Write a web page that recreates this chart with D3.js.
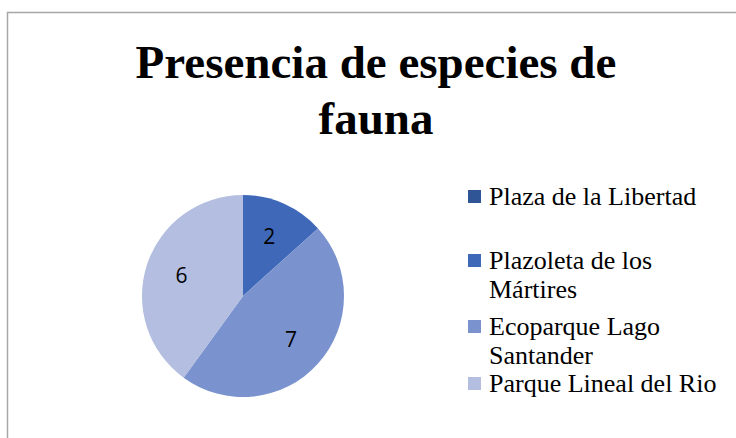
<!DOCTYPE html>
<html>
<head>
<meta charset="utf-8">
<script src="https://cdn.jsdelivr.net/npm/d3@7"></script>
<style>
  body { margin: 0; background: #fff; }
  svg { display: block; }
</style>
</head>
<body>
<div id="chart"></div>
<script>
// Données du graphique
const categories = ["Plaza de la Libertad", "Plazoleta de los Mártires", "Ecoparque Lago Santander", "Parque Lineal del Rio"];
const values = [0, 2, 7, 6];
const legendLines = [["Plaza de la Libertad"], ["Plazoleta de los", "Mártires"], ["Ecoparque Lago", "Santander"], ["Parque Lineal del Rio"]];
const colors = ["#2f5597", "#3f69b8", "#7a93cf", "#b3bee0"];
const titleLines = ["Presencia de especies de", "fauna"];

const width = 736;
const height = 438;

const svg = d3.select("#chart").append("svg")
    .attr("width", width)
    .attr("height", height);

// Cadre du graphique
svg.append("rect")
    .attr("x", 7.5)
    .attr("y", 12.5)
    .attr("width", 740)
    .attr("height", 440)
    .attr("fill", "none")
    .attr("stroke", "#a6a6a6")
    .attr("stroke-width", 1.5);

// Titre
svg.append("g").selectAll("text")
    .data(titleLines)
    .join("text")
    .attr("x", 376)
    .attr("y", (d, i) => 78 + i * 56)
    .attr("text-anchor", "middle")
    .attr("font-family", "Liberation Serif, Times New Roman, serif")
    .attr("font-weight", "bold")
    .attr("font-size", "47px")
    .attr("fill", "#000")
    .text(d => d);

// Camembert
const cx = 243, cy = 296, r = 101;
const color = d3.scaleOrdinal().domain(categories).range(colors);
const pie = d3.pie().sort(null).value(d => d.value);
const data = categories.map((c, i) => ({ name: c, value: values[i] }));
const arcs = pie(data);

const arc = d3.arc().innerRadius(0).outerRadius(r);
const labelArc = d3.arc().innerRadius(r * 0.64).outerRadius(r * 0.64);

const pieGroup = svg.append("g").attr("transform", `translate(${cx},${cy})`);

pieGroup.selectAll("path")
    .data(arcs.filter(d => d.value > 0))
    .join("path")
    .attr("d", arc)
    .attr("fill", d => color(d.data.name));

pieGroup.selectAll("text")
    .data(arcs.filter(d => d.value > 0))
    .join("text")
    .attr("transform", d => `translate(${labelArc.centroid(d)})`)
    .attr("text-anchor", "middle")
    .attr("dy", "0.35em")
    .attr("font-family", "Open Sans, Liberation Sans, sans-serif")
    .attr("font-size", "21px")
    .attr("fill", "#000")
    .text(d => d.value);

// Légende
const legendBaselines = [205, 269, 335, 392];
const legend = svg.append("g");
const items = legend.selectAll("g")
    .data(categories)
    .join("g")
    .attr("transform", (d, i) => `translate(468,${legendBaselines[i]})`);

items.append("rect")
    .attr("x", 0)
    .attr("y", -15)
    .attr("width", 13)
    .attr("height", 13)
    .attr("fill", d => color(d));

items.append("text")
    .attr("font-family", "Liberation Serif, Times New Roman, serif")
    .attr("font-size", "26px")
    .attr("fill", "#000")
    .selectAll("tspan")
    .data((d, i) => legendLines[i])
    .join("tspan")
    .attr("x", 21)
    .attr("y", (d, j) => j * 29)
    .text(d => d);
</script>
</body>
</html>
